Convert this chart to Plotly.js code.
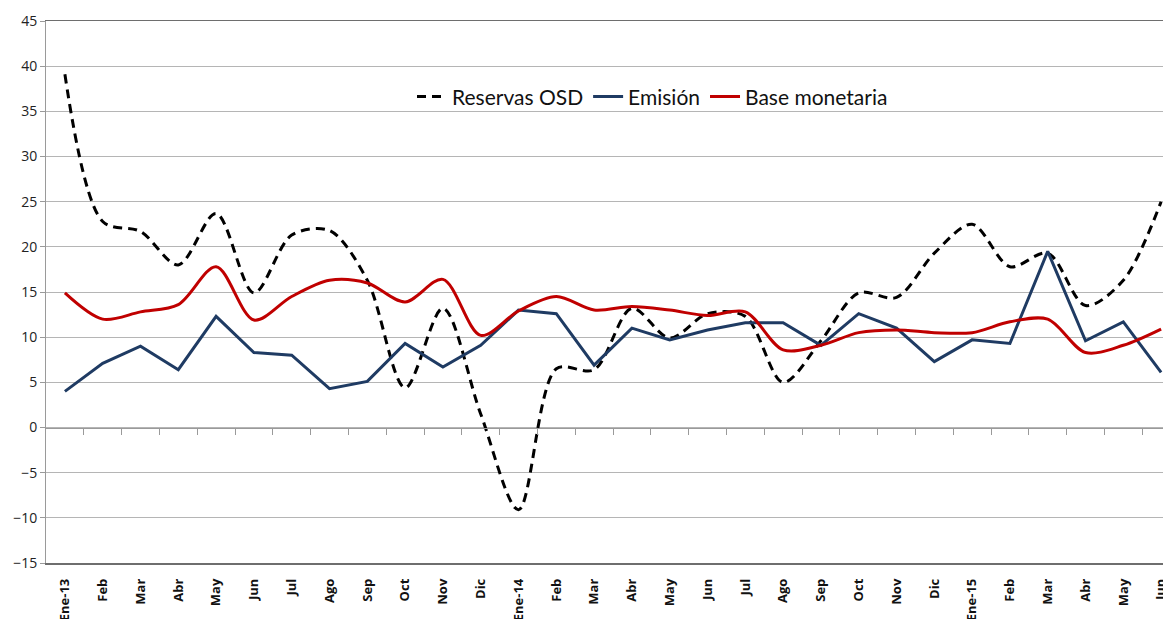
<!DOCTYPE html>
<html lang="es">
<head>
    <meta charset="UTF-8">
    <title>Reservas OSD, Emisión y Base monetaria</title>
    <script src="https://cdn.plot.ly/plotly-3.0.1.min.js"></script>
    <style>
        html, body { margin: 0; padding: 0; background: white; }
        #chart { width: 1163px; height: 619px; }
    </style>
</head>
<body>
    <div id="chart"></div>

    <script>
        // Meses, enero 2013 - junio 2015
        const months = ['Ene-13', 'Feb', 'Mar', 'Abr', 'May', 'Jun', 'Jul', 'Ago', 'Sep', 'Oct', 'Nov', 'Dic',
                        'Ene-14', 'Feb', 'Mar', 'Abr', 'May', 'Jun', 'Jul', 'Ago', 'Sep', 'Oct', 'Nov', 'Dic',
                        'Ene-15', 'Feb', 'Mar', 'Abr', 'May', 'Jun'];

        const reservasOSD = [39.1, 22.8, 21.7, 18.0, 23.7, 14.9, 21.3, 21.8, 16.3, 4.4, 13.2, 1.5,
                             -9.1, 6.5, 6.4, 13.2, 9.9, 12.6, 12.3, 5.0, 9.6, 14.9, 14.4, 19.3,
                             22.5, 17.8, 19.3, 13.5, 16.3, 25.0];

        const emision = [4.0, 7.1, 9.0, 6.4, 12.3, 8.3, 8.0, 4.3, 5.1, 9.3, 6.7, 9.1,
                         13.0, 12.6, 6.9, 11.0, 9.7, 10.8, 11.6, 11.6, 9.1, 12.6, 11.0, 7.3,
                         9.7, 9.3, 19.5, 9.6, 11.7, 6.1];

        const baseMonetaria = [14.9, 12.0, 12.8, 13.6, 17.8, 11.9, 14.5, 16.3, 16.0, 13.9, 16.4, 10.2,
                               12.9, 14.5, 13.0, 13.4, 13.0, 12.4, 12.8, 8.6, 9.1, 10.5, 10.8, 10.5,
                               10.5, 11.7, 12.0, 8.3, 9.1, 10.9];

        const idx = months.map((m, i) => i);
        const bandEdges = months.map((m, i) => i + 0.5);

        const traces = [
            {
                x: idx, y: reservasOSD, name: 'Reservas OSD',
                type: 'scatter', mode: 'lines',
                line: { color: '#000000', width: 3, dash: '9px,6px', shape: 'spline', smoothing: 0.9 },
                hoverinfo: 'skip'
            },
            {
                x: idx, y: emision, name: 'Emisión',
                type: 'scatter', mode: 'lines',
                line: { color: '#1f3b63', width: 3 },
                hoverinfo: 'skip'
            },
            {
                x: idx, y: baseMonetaria, name: 'Base monetaria',
                type: 'scatter', mode: 'lines',
                line: { color: '#c00000', width: 3, shape: 'spline', smoothing: 0.9 },
                hoverinfo: 'skip'
            },
            // empty trace so the zero-line axis gets drawn
            { x: [], y: [], xaxis: 'x2', yaxis: 'y', showlegend: false, type: 'scatter', mode: 'lines' }
        ];

        const xRange = [-0.5, 29.05];

        const layout = {
            width: 1163,
            height: 619,
            margin: { l: 46, r: 0, t: 21, b: 56 },
            paper_bgcolor: 'white',
            plot_bgcolor: 'white',
            font: { family: '"Open Sans", Lato, sans-serif', color: '#222' },
            showlegend: true,
            legend: {
                orientation: 'h',
                x: 0.543, xanchor: 'center',
                y: 0.86, yanchor: 'middle',
                font: { size: 21, color: '#111', family: 'Lato, "Open Sans", sans-serif' },
                bgcolor: 'rgba(0,0,0,0)'
            },
            xaxis: {
                range: xRange,
                tickvals: idx,
                ticktext: months,
                tickangle: -90,
                tickfont: { size: 13, color: '#111', weight: 'bold' },
                ticks: '',
                ticklabelstandoff: 9,
                ticklabeloverflow: 'allow',
                showgrid: false,
                zeroline: false,
                showline: true,
                linecolor: '#6e6e6e',
                linewidth: 1.5,
                mirror: true,
                automargin: false,
                fixedrange: true
            },
            xaxis2: {
                overlaying: 'x',
                anchor: 'free',
                position: 0.25,
                range: xRange,
                tickvals: bandEdges,
                showticklabels: false,
                ticks: 'outside',
                ticklen: 6,
                tickcolor: '#9a9a9a',
                showgrid: false,
                zeroline: false,
                showline: true,
                linecolor: '#9a9a9a',
                linewidth: 1
            },
            yaxis: {
                range: [-15, 45],
                dtick: 5,
                tick0: -15,
                ticks: 'outside',
                ticklen: 5,
                tickcolor: '#9a9a9a',
                tickfont: { size: 14, color: '#222' },
                showgrid: true,
                gridcolor: '#b5b5b5',
                gridwidth: 1,
                zeroline: false,
                showline: true,
                linecolor: '#9a9a9a',
                linewidth: 1,
                automargin: false,
                fixedrange: true
            }
        };

        Plotly.newPlot('chart', traces, layout, { displayModeBar: false, staticPlot: true });
    </script>
</body>
</html>
